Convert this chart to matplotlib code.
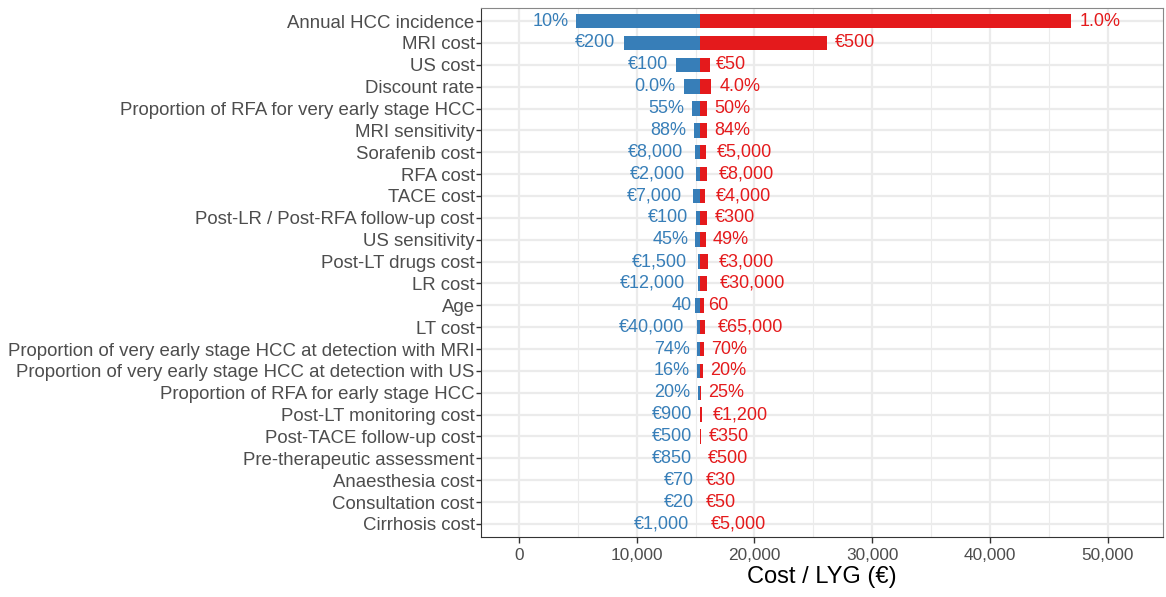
import matplotlib
matplotlib.use("Agg")
import matplotlib.pyplot as plt
import matplotlib.transforms as mtransforms
from matplotlib.ticker import FuncFormatter, MultipleLocator

plt.rcParams['font.family'] = ['Liberation Sans', 'DejaVu Sans']

parameters = [
    "Annual HCC incidence", "MRI cost", "US cost", "Discount rate",
    "Proportion of RFA for very early stage HCC", "MRI sensitivity",
    "Sorafenib cost", "RFA cost", "TACE cost",
    "Post-LR / Post-RFA follow-up cost", "US sensitivity",
    "Post-LT drugs cost", "LR cost", "Age", "LT cost",
    "Proportion of very early stage HCC at detection with MRI",
    "Proportion of very early stage HCC at detection with US",
    "Proportion of RFA for early stage HCC", "Post-LT monitoring cost",
    "Post-TACE follow-up cost", "Pre-therapeutic assessment",
    "Anaesthesia cost", "Consultation cost", "Cirrhosis cost",
]
low_labels = ["10%", "€200", "€100", "0.0%", "55%", "88%", "€8,000", "€2,000",
              "€7,000", "€100", "45%", "€1,500", "€12,000", "40", "€40,000",
              "74%", "16%", "20%", "€900", "€500", "€850", "€70", "€20", "€1,000"]
high_labels = ["1.0%", "€500", "€50", "4.0%", "50%", "84%", "€5,000", "€8,000",
               "€4,000", "€300", "49%", "€3,000", "€30,000", "60", "€65,000",
               "70%", "20%", "25%", "€1,200", "€350", "€500", "€30", "€50", "€5,000"]
base_cost = 15400
low_cost = [4830, 8890, 13310, 13990, 14670, 14840, 14920, 15010, 14780, 15010,
            14980, 15180, 15240, 14980, 15150, 15150, 15150, 15180, 15390, 15370,
            15370, 15400, 15400, 15400]
high_cost = [46900, 26170, 16200, 16310, 16000, 15970, 15880, 16000, 15800, 15970,
             15860, 16030, 15940, 15690, 15800, 15690, 15600, 15460, 15520, 15430,
             15400, 15400, 15400, 15400]

BLUE = "#377EB8"
RED = "#E41A1C"

fig = plt.figure(figsize=(11.66, 5.97), dpi=100)
ax = fig.add_axes([481/1166, 1 - 537/597, (1163-481)/1166, (537-8)/597])

n = len(parameters)
ypos = list(range(n - 1, -1, -1))
h = 0.66
for y, lo, hi in zip(ypos, low_cost, high_cost):
    ax.barh(y, lo - base_cost, left=base_cost, height=h, color=BLUE, lw=0, zorder=3)
    ax.barh(y, hi - base_cost, left=base_cost, height=h, color=RED, lw=0, zorder=3)

fs = 13
texts = []
for y, lo, hi, ll, hl in zip(ypos, low_cost, high_cost, low_labels, high_labels):
    t1 = ax.text(lo, y, ll, ha='right', va='center', color=BLUE, fontsize=fs, zorder=4)
    t2 = ax.text(hi, y, hl, ha='left', va='center', color=RED, fontsize=fs, zorder=4)
    texts.append((t1, -1))
    texts.append((t2, 1))

ax.set_xlim(-3230, 54700)
ax.set_ylim(-0.6, n - 0.4)
ax.set_yticks(ypos)
ax.set_yticklabels(parameters, fontsize=13.4, color="#4D4D4D")
ax.xaxis.set_major_locator(MultipleLocator(10000))
ax.xaxis.set_minor_locator(MultipleLocator(5000))
ax.xaxis.set_major_formatter(FuncFormatter(lambda v, p: f"{int(v):,}"))
ax.tick_params(axis='x', labelsize=12.4, labelcolor="#4D4D4D", color="#333333", length=4, width=1, pad=4)
ax.tick_params(axis='x', which='minor', length=0)
ax.tick_params(axis='y', color="#333333", length=3.5, width=1, pad=1)
ax.set_xlabel("Cost / LYG (€)", fontsize=17, color="black", labelpad=2)

ax.grid(True, which='major', color="#EBEBEB", lw=1.6, zorder=0)
ax.grid(True, which='minor', axis='x', color="#EBEBEB", lw=0.8, zorder=0)
ax.set_axisbelow(True)
for s in ax.spines.values():
    s.set_color("#333333")
    s.set_linewidth(0.8)
ax.spines['top'].set_color("#888888")
ax.spines['right'].set_color("#888888")

fig.canvas.draw()
r = fig.canvas.get_renderer()
for t, sgn in texts:
    w = t.get_window_extent(r).width
    off = mtransforms.ScaledTranslation(sgn * 0.2 * w / fig.dpi, 0, fig.dpi_scale_trans)
    t.set_transform(ax.transData + off)

fig.savefig("out.png", dpi=100)
